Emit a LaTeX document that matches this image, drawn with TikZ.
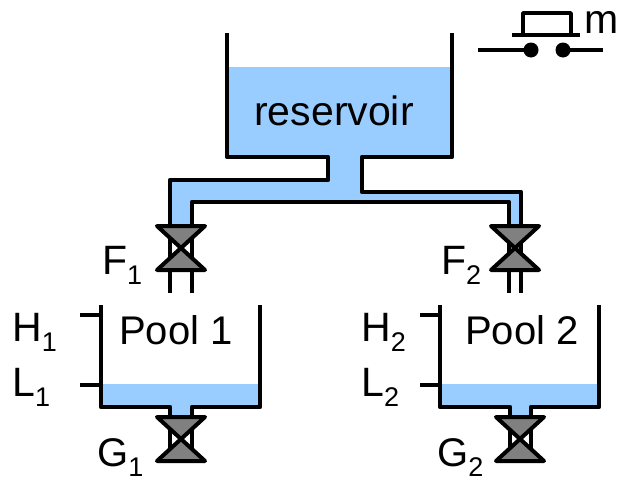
\documentclass[tikz,border=0pt]{standalone}
\usepackage{fontspec}
\setmainfont{Liberation Sans}
\usepackage{xcolor}
\definecolor{waterblue}{HTML}{99CCFF}
\definecolor{valvegray}{HTML}{808080}
\newcommand{\lowidx}[1]{\raisebox{-10pt}{\fontsize{27}{30}\selectfont #1}}

\begin{document}
\begin{tikzpicture}[x=1pt,y=-1pt,line join=round]
  \tikzstyle{wall}=[line width=4.5pt]
  \tikzstyle{water}=[fill=waterblue,draw=none]
  \tikzstyle{valve}=[fill=valvegray,draw=black,line width=4pt]
  \tikzstyle{lbl}=[font=\fontsize{41}{49}\selectfont,inner sep=0pt,anchor=base west]
  \tikzstyle{sublbl}=[font=\fontsize{40}{48}\selectfont,inner sep=0pt,anchor=base west]

  \useasboundingbox (0,0) rectangle (619,482);

  % water
  \fill[water] (227,67) -- (452,67) -- (452,157) -- (362,157) -- (362,192)
    -- (521,192) -- (521,226) -- (509,226) -- (509,202) -- (192,202)
    -- (192,226) -- (170,226) -- (170,180) -- (328,180) -- (328,157)
    -- (227,157) -- cycle;
  \fill[water] (101,384) rectangle (260,407) (170,407) rectangle (192,417);
  \fill[water] (440,384) rectangle (599,407) (510,407) rectangle (531,417);

  % reservoir and pipes
  \draw[wall] (227,33) -- (227,157) -- (328,157) -- (328,180) -- (170,180) -- (170,226);
  \draw[wall] (452,33) -- (452,157) -- (362,157) -- (362,192) -- (521,192) -- (521,226);
  \draw[wall] (192,226) -- (192,202) -- (509,202) -- (509,226);
  \draw[wall] (170,270) -- (170,293) (192,270) -- (192,293);
  \draw[wall] (509,270) -- (509,293) (521,270) -- (521,293);

  % pools
  \draw[wall] (101,305) -- (101,407) -- (170,407) -- (170,417);
  \draw[wall] (192,417) -- (192,407) -- (260,407) -- (260,305);
  \draw[wall] (80,315) -- (101,315) (80,385) -- (101,385);
  \draw[wall] (440,305) -- (440,407) -- (510,407) -- (510,417);
  \draw[wall] (531,417) -- (531,407) -- (599,407) -- (599,305);
  \draw[wall] (420,315) -- (440,315) (420,385) -- (440,385);

  % valves
  \foreach \vx/\vy/\pa/\pb in {181/248/170/192, 515/248/509/521,
                               181/439/170/192, 520/439/510/531}{
    \draw[wall] (\pa,\vy-22) -- (\pa,\vy+22) (\pb,\vy-22) -- (\pb,\vy+22);
    \draw[valve] (\vx-24,\vy-22) -- (\vx+24,\vy-22) -- (\vx-24,\vy+22)
      -- (\vx+24,\vy+22) -- cycle;
  }

  % switch m
  \draw[line width=3.5pt] (478,50) -- (531,50) (563,50) -- (603,50);
  \fill (531,50) circle (7.5pt) (563,50) circle (7.5pt);
  \draw[line width=3.5pt] (512,35) -- (580,35) (523,35) -- (523,13) -- (571,13) -- (571,35);

  % labels
  \node[lbl,anchor=base] (res) at (334,125) {reservoir};
  \node[sublbl] (pool1) at (119,344) {Pool 1};
  \node[sublbl] (pool2) at (465,344) {Pool 2};
  \node[lbl] (h1) at (12,341) {H\lowidx{1}};
  \node[lbl] (l1) at (12,396) {L\lowidx{1}};
  \node[lbl] (h2) at (361,341) {H\lowidx{2}};
  \node[lbl] (l2) at (361,396) {L\lowidx{2}};
  \node[lbl] (f1) at (102,274) {F\lowidx{1}};
  \node[lbl] (f2) at (441,274) {F\lowidx{2}};
  \node[sublbl] (g1) at (97,466) {G\lowidx{1}};
  \node[sublbl] (g2) at (437,466) {G\lowidx{2}};
  \node[lbl] (m) at (584,33) {m};
\end{tikzpicture}
\end{document}
